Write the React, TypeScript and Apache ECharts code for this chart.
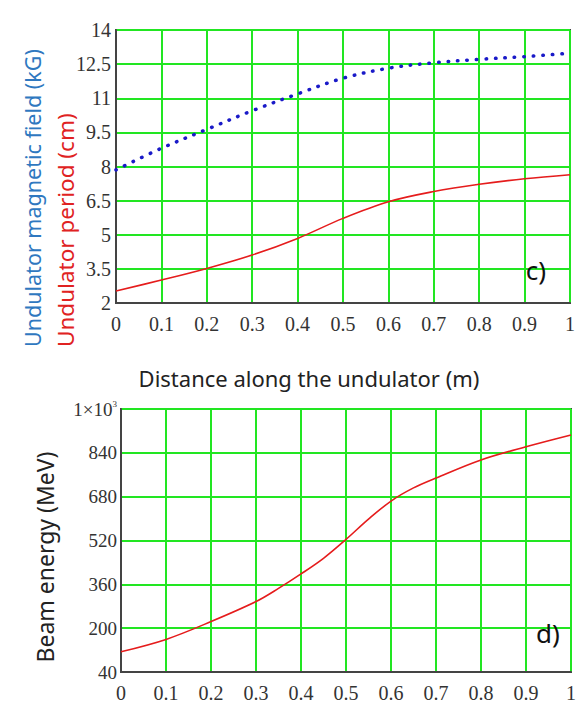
import React, { useEffect, useRef } from "react";
import * as echarts from "echarts";

const topX = [0, 0.1, 0.2, 0.3, 0.4, 0.5, 0.6, 0.7, 0.8, 0.9, 1.0];
const fieldKG = [7.85, 8.8, 9.63, 10.45, 11.19, 11.88, 12.32, 12.56, 12.71, 12.83, 12.98];
const periodCM = [2.53, 3.01, 3.52, 4.11, 4.84, 5.72, 6.45, 6.9, 7.22, 7.46, 7.64];

const energyX = [0, 0.1, 0.2, 0.3, 0.35, 0.4, 0.45, 0.5, 0.55, 0.6, 0.65, 0.7, 0.8, 0.9, 1.0];
const energyMeV = [114, 159, 224, 297, 345, 398, 455, 524, 598, 664, 712, 748, 814, 862, 905];

const topYTicks = { min: 2, max: 14, interval: 1.5 };
const botYTicks = { min: 40, max: 1000, interval: 160 };

const xLabel = (v: number) => (v === 0 ? "0" : v === 1 ? "1" : String(Math.round(v * 10) / 10));

export default function App() {
  const ref = useRef<HTMLDivElement>(null);
  useEffect(() => {
    if (!ref.current) return;
    const chart = echarts.init(ref.current, null, { renderer: "svg" });
    const serif = "Liberation Serif";
    const sans = "Noto Sans";
    const gridColor = "#22e622";
    const xAxisCommon = {
      type: "value" as const,
      min: 0,
      max: 1,
      interval: 0.1,
      axisLine: { show: true, lineStyle: { color: "#444", width: 2 } },
      axisTick: { show: false },
      splitLine: { show: true, lineStyle: { color: gridColor, width: 2 } },
      axisLabel: { fontFamily: serif, fontSize: 20, color: "#333", margin: 11, formatter: xLabel },
    };
    const yAxisCommon = {
      type: "value" as const,
      axisLine: { show: true, lineStyle: { color: "#444", width: 2 } },
      axisTick: { show: false },
      splitLine: { show: true, lineStyle: { color: gridColor, width: 2 } },
    };
    chart.setOption({
      animation: false,
      backgroundColor: "#fff",
      grid: [
        { left: 116, top: 30, width: 454, height: 273, show: true, borderColor: "#444", borderWidth: 2, backgroundColor: "transparent" },
        { left: 121, top: 409, width: 450, height: 263, show: true, borderColor: "#444", borderWidth: 2, backgroundColor: "transparent" },
      ],
      xAxis: [
        { ...xAxisCommon, gridIndex: 0 },
        { ...xAxisCommon, gridIndex: 1 },
      ],
      yAxis: [
        {
          ...yAxisCommon,
          gridIndex: 0,
          ...topYTicks,
          axisLabel: { fontFamily: serif, fontSize: 20, color: "#333", margin: 5, formatter: (v: number) => String(v) },
        },
        {
          ...yAxisCommon,
          gridIndex: 1,
          ...botYTicks,
          axisLabel: {
            fontFamily: serif,
            fontSize: 19,
            color: "#333",
            margin: 4,
            formatter: (v: number) => (v === 1000 ? "{a|1×10}{b|3}" : String(v)),
            rich: {
              a: { fontFamily: serif, fontSize: 19, color: "#333" },
              b: { fontFamily: serif, fontSize: 9, color: "#333", verticalAlign: "top", padding: [0, 0, 10, 0] },
            },
          },
        },
      ],
      series: [
        {
          type: "line",
          xAxisIndex: 0,
          yAxisIndex: 0,
          data: topX.map((x, i) => [x, fieldKG[i]]),
          smooth: 0.35,
          showSymbol: false,
          lineStyle: { color: "#1a1ac8", width: 3.5, type: [0.5, 9], cap: "round" },
          z: 5,
        },
        {
          type: "line",
          xAxisIndex: 0,
          yAxisIndex: 0,
          data: topX.map((x, i) => [x, periodCM[i]]),
          smooth: 0.35,
          showSymbol: false,
          lineStyle: { color: "#e51c1c", width: 1.6 },
          z: 5,
        },
        {
          type: "line",
          xAxisIndex: 1,
          yAxisIndex: 1,
          data: energyX.map((x, i) => [x, energyMeV[i]]),
          smooth: 0.35,
          showSymbol: false,
          lineStyle: { color: "#e51c1c", width: 1.6 },
          z: 5,
        },
      ],
      graphic: [
        {
          type: "text",
          x: 32,
          y: 347,
          rotation: Math.PI / 2,
          style: { text: "Undulator magnetic field (kG)", fill: "#2f78c0", font: `21.5px "${sans}"`, textAlign: "left", textVerticalAlign: "middle" },
        },
        {
          type: "text",
          x: 65,
          y: 347,
          rotation: Math.PI / 2,
          style: { text: "Undulator period (cm)", fill: "#e02222", font: `22.5px "${sans}"`, textAlign: "left", textVerticalAlign: "middle" },
        },
        {
          type: "text",
          x: 309,
          y: 378,
          style: { text: "Distance along the undulator (m)", fill: "#222", font: `22px "${sans}"`, textAlign: "center", textVerticalAlign: "middle" },
        },
        {
          type: "text",
          x: 45,
          y: 557,
          rotation: Math.PI / 2,
          style: { text: "Beam energy (MeV)", fill: "#222", font: `23px "${sans}"`, textAlign: "center", textVerticalAlign: "middle" },
        },
        {
          type: "text",
          x: 536,
          y: 270,
          z: 10,
          style: { text: "c)", fill: "#111", font: `26px "${sans}"`, textAlign: "center", textVerticalAlign: "middle" },
        },
        {
          type: "text",
          x: 548,
          y: 633,
          z: 10,
          style: { text: "d)", fill: "#111", font: `26px "${sans}"`, textAlign: "center", textVerticalAlign: "middle" },
        },
      ],
    });
    return () => chart.dispose();
  }, []);
  return <div ref={ref} style={{ position: "absolute", left: 0, top: 0, width: 582, height: 706 }} />;
}
